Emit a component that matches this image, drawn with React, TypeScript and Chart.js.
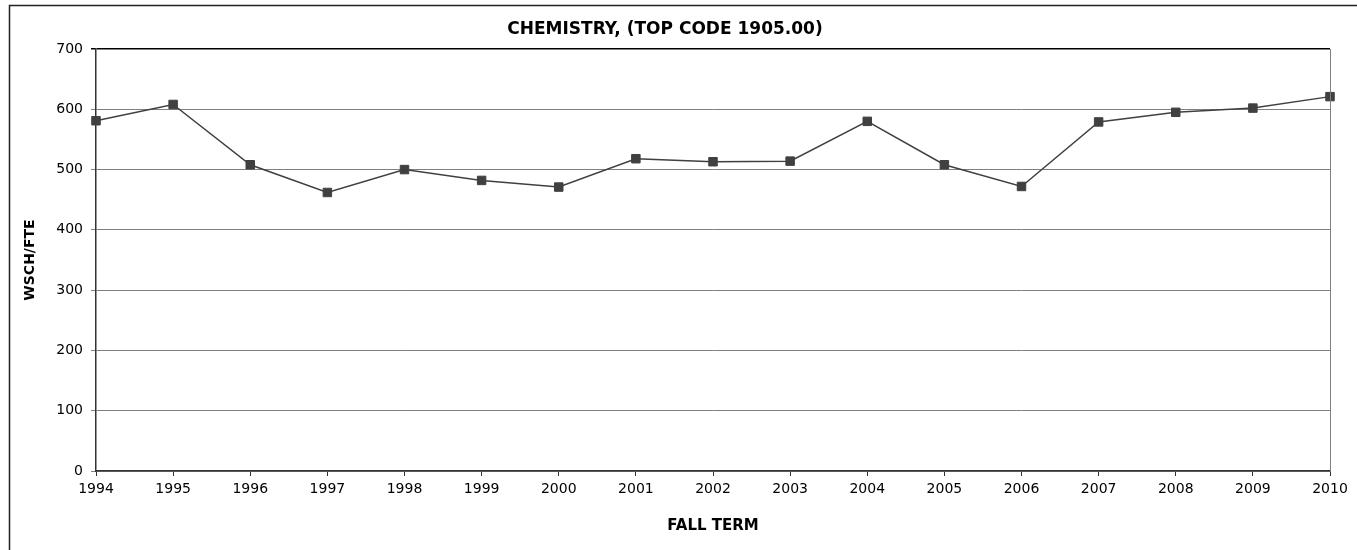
import React, { useEffect, useRef } from "react";
import { Chart, registerables } from "chart.js";

Chart.register(...registerables);

const TITLE = "CHEMISTRY, (TOP CODE 1905.00)";
const X_TITLE = "FALL TERM";
const Y_TITLE = "WSCH/FTE";
const years = ["1994", "1995", "1996", "1997", "1998", "1999", "2000", "2001", "2002", "2003", "2004", "2005", "2006", "2007", "2008", "2009", "2010"];
const wschFte = [581, 608, 508, 462, 500, 482, 471, 518, 513, 514, 580, 508, 472, 579, 595, 602, 621];
const yMin = 0;
const yMax = 700;
const yStep = 100;

const FONT = "'DejaVu Sans', 'Liberation Sans', Arial, sans-serif";

const framePlugin = {
  id: "frame",
  beforeDraw(chart: any) {
    const ctx = chart.ctx;
    ctx.save();
    ctx.strokeStyle = "#222";
    ctx.lineWidth = 1.5;
    ctx.beginPath();
    ctx.moveTo(9.5, 600);
    ctx.lineTo(9.5, 5.5);
    ctx.lineTo(1360, 5.5);
    ctx.stroke();
    ctx.restore();
  },
  afterDraw(chart: any) {
    const { ctx, chartArea } = chart;
    ctx.save();
    ctx.strokeStyle = "#808080";
    ctx.lineWidth = 1;
    ctx.beginPath();
    ctx.moveTo(Math.round(chartArea.right) + 0.5, chartArea.top);
    ctx.lineTo(Math.round(chartArea.right) + 0.5, chartArea.bottom);
    ctx.stroke();
    ctx.restore();
  },
};

export default function App() {
  const ref = useRef<HTMLCanvasElement>(null);
  useEffect(() => {
    if (!ref.current) return;
    const chart = new Chart(ref.current, {
      type: "line",
      data: {
        labels: years,
        datasets: [
          {
            data: wschFte,
            borderColor: "#404040",
            backgroundColor: "#404040",
            borderWidth: 1.5,
            pointStyle: "rect",
            pointRadius: 6,
            pointBorderWidth: 1,
            pointBorderColor: "#404040",
            pointBackgroundColor: "#404040",
            tension: 0,
            fill: false,
          },
        ],
      },
      options: {
        responsive: false,
        animation: false,
        layout: { padding: { left: 0, right: 27, top: 0, bottom: 0 } },
        plugins: {
          legend: { display: false },
          tooltip: { enabled: false },
          title: {
            display: true,
            text: TITLE,
            color: "#000",
            font: { family: FONT, size: 17, weight: "bold", lineHeight: 1.2 },
            padding: { top: 19, bottom: 9.6 },
          },
        },
        scales: {
          x: {
            type: "category",
            offset: false,
            afterFit(scale: any) {
              scale.height = 79;
            },
            grid: {
              display: true,
              drawOnChartArea: false,
              drawTicks: true,
              tickLength: 5,
              color: "#333",
              offset: false,
            },
            border: { display: true, color: "#333", width: 1.5 },
            ticks: {
              color: "#000",
              font: { family: FONT, size: 14 },
              padding: 5,
              maxRotation: 0,
              autoSkip: false,
            },
            title: {
              display: true,
              text: X_TITLE,
              color: "#000",
              font: { family: FONT, size: 15, weight: "bold", lineHeight: 1.2 },
              padding: { top: 0, bottom: 15 },
            },
          },
          y: {
            min: yMin,
            max: yMax,
            afterFit(scale: any) {
              scale.width = 96;
            },
            grid: {
              color: (c: any) => (c.tick && c.tick.value === yMax ? "#000" : "#808080"),
              lineWidth: (c: any) => (c.tick && c.tick.value === yMax ? 1.5 : 1),
              tickLength: 5,
              drawTicks: true,
            },
            border: { display: true, color: "#333", width: 1.5 },
            ticks: {
              stepSize: yStep,
              color: "#000",
              font: { family: FONT, size: 14 },
              padding: 8,
            },
            title: {
              display: true,
              text: Y_TITLE,
              color: "#000",
              font: { family: FONT, size: 14, weight: "bold", lineHeight: 1.2 },
              padding: { top: 22, bottom: 0 },
            },
          },
        },
      },
      plugins: [framePlugin],
    });
    return () => chart.destroy();
  }, []);
  return (
    <div style={{ position: "fixed", left: 0, top: 0, width: 1357, height: 550, background: "#fff" }}>
      <canvas ref={ref} width={1357} height={550} style={{ display: "block" }} />
    </div>
  );
}
